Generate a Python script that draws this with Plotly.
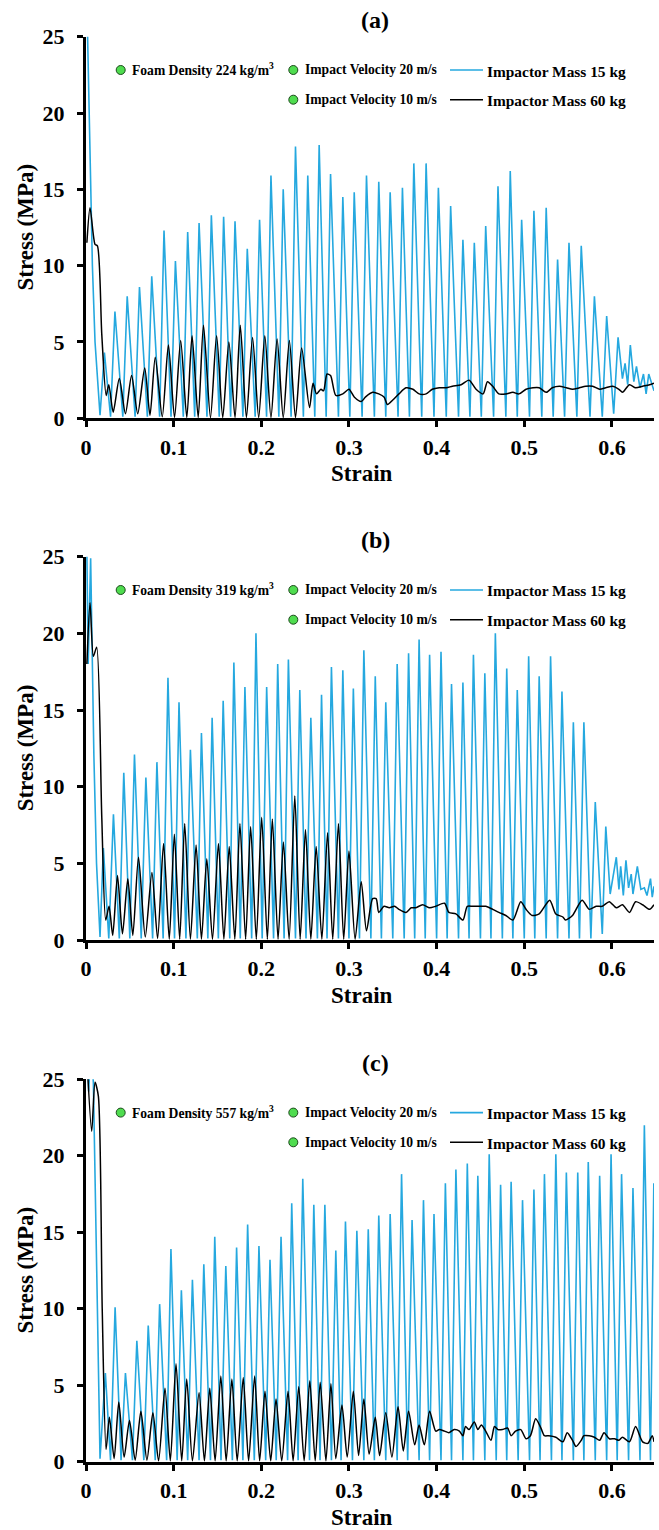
import plotly.graph_objects as go

# ---------------- data ----------------
PANEL_TITLES = ["(a)", "(b)", "(c)"]
DENSITY_LABELS = ["Foam Density 224 kg/m<sup>3</sup>",
                  "Foam Density 319 kg/m<sup>3</sup>",
                  "Foam Density 557 kg/m<sup>3</sup>"]
VELOCITY_LABELS = ["Impact Velocity 20 m/s", "Impact Velocity 10 m/s"]
MASS_LABELS = ["Impactor Mass 15 kg", "Impactor Mass 60 kg"]
X_TICKS = [0, 0.1, 0.2, 0.3, 0.4, 0.5, 0.6]
X_TICK_TEXT = ["0", "0.1", "0.2", "0.3", "0.4", "0.5", "0.6"]
Y_TICKS = [0, 5, 10, 15, 20, 25]

# (strain, stress MPa) vertices
A_BLUE = [(0, 30), (0.0038, 20), (0.0073, 10), (0.0103, 5), (0.016, 0.2),
          (0.021, 4.3), (0.028, 0.1), (0.033, 7.0), (0.042, 0.1), (0.047, 8.0), (0.056, 0.1),
          (0.061, 8.6), (0.070, 0.1), (0.075, 9.3), (0.084, 0.1), (0.089, 12.3), (0.097, 0.1),
          (0.102, 10.3), (0.111, 0.1), (0.116, 12.2), (0.124, 0.1), (0.129, 12.8), (0.138, 0.1),
          (0.143, 13.3), (0.152, 0.1), (0.157, 13.2), (0.165, 0.1), (0.170, 12.9), (0.179, 0.1),
          (0.184, 11.1), (0.193, 0.1), (0.198, 13.0), (0.206, 0.1), (0.211, 15.9), (0.220, 0.1),
          (0.225, 15.0), (0.234, 0.1), (0.239, 17.8), (0.248, 0.1), (0.253, 15.9), (0.261, 0.1),
          (0.266, 17.9), (0.274, 0.1), (0.279, 16.0), (0.288, 0.1), (0.293, 14.5), (0.301, 0.1),
          (0.306, 14.8), (0.315, 0.1), (0.320, 15.9), (0.329, 0.1), (0.334, 15.5), (0.342, 0.1),
          (0.347, 14.8), (0.356, 0.1), (0.361, 15.1), (0.369, 0.1), (0.374, 16.7), (0.383, 0.1),
          (0.388, 16.7), (0.397, 0.1), (0.402, 15.1), (0.411, 0.1), (0.416, 13.9), (0.425, 0.1),
          (0.430, 11.7), (0.438, 0.1), (0.443, 11.5), (0.451, 0.1), (0.456, 12.6), (0.465, 0.1),
          (0.470, 15.2), (0.479, 0.1), (0.484, 16.2), (0.492, 0.1), (0.497, 13.0), (0.506, 0.1),
          (0.511, 13.6), (0.520, 0.1), (0.525, 13.8), (0.533, 0.1), (0.538, 10.4), (0.546, 0.1),
          (0.551, 11.5), (0.560, 0.1), (0.565, 11.3), (0.575, 0.1), (0.580, 8.0), (0.589, 0.1),
          (0.594, 6.7), (0.602, 0.3), (0.607, 5.3), (0.612, 2.6), (0.615, 3.6), (0.618, 2.2),
          (0.621, 4.8), (0.625, 2.4), (0.628, 3.4), (0.632, 2.0), (0.636, 2.9), (0.639, 1.6),
          (0.642, 2.9), (0.645, 2.4), (0.648, 1.8)]

A_BLACK = [(0.001, 11.5), (0.0046, 13.8), (0.0103, 11.4), (0.013, 11.3), (0.018, 5.5), (0.023, 1.5),
           (0.026, 2.2), (0.031, 0.4), (0.038, 2.6), (0.045, 0.3), (0.052, 2.8), (0.059, 0.3),
           (0.067, 3.3), (0.073, 0.2), (0.079, 4.0), (0.087, 0.1), (0.094, 4.8), (0.101, 0.05),
           (0.108, 5.1), (0.115, 0.05), (0.121, 5.4), (0.128, 0.05), (0.134, 6.1), (0.142, 0.05),
           (0.149, 5.4), (0.156, 0.05), (0.163, 5.0), (0.170, 0.05), (0.176, 6.1), (0.183, 0.05),
           (0.190, 5.3), (0.197, 0.05), (0.204, 5.4), (0.211, 0.05), (0.218, 5.2), (0.225, 0.05),
           (0.232, 5.1), (0.239, 0.05), (0.246, 4.6), (0.255, 0.7), (0.259, 2.3), (0.263, 1.6),
           (0.268, 1.9), (0.271, 1.8), (0.275, 2.9), (0.279, 2.8), (0.285, 1.5), (0.293, 1.6),
           (0.300, 1.9), (0.306, 1.4), (0.314, 1.1), (0.319, 1.4), (0.327, 1.7), (0.334, 1.6),
           (0.340, 1.4), (0.344, 0.9), (0.350, 1.2), (0.357, 1.6), (0.365, 2.0), (0.373, 1.9),
           (0.380, 1.6), (0.388, 1.6), (0.395, 1.9), (0.403, 2.0), (0.411, 2.0), (0.418, 2.1),
           (0.428, 2.2), (0.437, 2.5), (0.445, 1.9), (0.453, 1.6), (0.458, 2.4), (0.464, 2.1),
           (0.471, 1.6), (0.479, 1.6), (0.487, 1.7), (0.494, 1.6), (0.502, 1.9), (0.510, 2.0),
           (0.517, 2.0), (0.525, 1.7), (0.532, 2.0), (0.540, 2.1), (0.548, 2.0), (0.555, 1.9),
           (0.563, 2.0), (0.570, 2.1), (0.578, 2.1), (0.586, 1.9), (0.593, 2.0), (0.601, 2.1),
           (0.608, 1.9), (0.612, 1.7), (0.620, 2.2), (0.627, 2.0), (0.635, 2.1), (0.643, 2.2),
           (0.648, 2.3)]

B_BLUE = [(0, 30), (0.0025, 18), (0.0053, 24.9), (0.009, 12), (0.012, 5), (0.016, 0.2),
          (0.0198, 6.0), (0.026, 0.1), (0.0313, 8.2), (0.038, 0.1), (0.0431, 10.9), (0.050, 0.1),
          (0.0553, 12.1), (0.063, 0.1), (0.0683, 10.6), (0.076, 0.1), (0.0809, 11.6), (0.088, 0.1),
          (0.0935, 17.1), (0.101, 0.1), (0.1061, 15.5), (0.114, 0.1), (0.1191, 12.4), (0.127, 0.1),
          (0.1317, 13.5), (0.139, 0.1), (0.1439, 14.5), (0.151, 0.1), (0.1565, 15.6), (0.164, 0.1),
          (0.1687, 18.1), (0.176, 0.1), (0.1813, 16.5), (0.189, 0.1), (0.1939, 20.0), (0.201, 0.1),
          (0.2061, 16.5), (0.214, 0.1), (0.2187, 18.0), (0.226, 0.1), (0.2309, 18.3), (0.239, 0.1),
          (0.2439, 16.3), (0.251, 0.1), (0.2565, 14.5), (0.264, 0.1), (0.2687, 16.0), (0.275, 0.1),
          (0.280, 17.8), (0.288, 0.1), (0.293, 17.6), (0.300, 0.1), (0.305, 16.4), (0.312, 0.1),
          (0.317, 18.9), (0.325, 0.1), (0.330, 17.2), (0.337, 0.1), (0.342, 15.5), (0.350, 0.1),
          (0.355, 18.0), (0.363, 0.1), (0.368, 18.7), (0.375, 0.1), (0.380, 19.6), (0.387, 0.1),
          (0.392, 18.6), (0.400, 0.1), (0.405, 18.8), (0.412, 0.1), (0.417, 16.7), (0.425, 0.1),
          (0.430, 16.8), (0.437, 0.1), (0.442, 18.6), (0.450, 0.1), (0.455, 17.4), (0.462, 0.1),
          (0.467, 20.0), (0.475, 0.1), (0.480, 17.7), (0.487, 0.1), (0.492, 16.3), (0.500, 0.1),
          (0.505, 18.5), (0.512, 0.1), (0.517, 17.2), (0.525, 0.1), (0.530, 18.5), (0.538, 0.1),
          (0.543, 16.2), (0.551, 0.1), (0.556, 14.2), (0.563, 0.1), (0.568, 14.2), (0.576, 0.1),
          (0.581, 9.0), (0.589, 0.4), (0.593, 7.4), (0.598, 3.0), (0.605, 5.4), (0.608, 3.3),
          (0.610, 4.8), (0.613, 2.9), (0.616, 5.2), (0.619, 3.4), (0.622, 4.3), (0.624, 3.0),
          (0.629, 4.8), (0.633, 3.3), (0.637, 3.4), (0.640, 2.9), (0.644, 4.0), (0.646, 2.8),
          (0.648, 3.5)]

B_BLACK = [(0.001, 18), (0.0046, 22.0), (0.0084, 18.5), (0.0122, 19.1), (0.018, 8.0), (0.0225, 1.3),
           (0.0263, 2.2), (0.0305, 0.3), (0.0359, 4.2), (0.0416, 0.4), (0.0477, 4.0), (0.0534, 0.3),
           (0.0599, 5.4), (0.0676, 0.2), (0.0752, 4.4), (0.0817, 0.1), (0.0885, 6.3), (0.0950, 0.05),
           (0.1008, 6.9), (0.1069, 0.05), (0.1126, 7.6), (0.1191, 0.05), (0.1256, 6.2), (0.1317, 0.05),
           (0.1378, 5.3), (0.1443, 0.05), (0.1511, 6.3), (0.1573, 0.05), (0.1634, 6.1), (0.1698, 0.05),
           (0.1756, 7.6), (0.1821, 0.05), (0.1878, 7.4), (0.1943, 0.05), (0.2004, 8.0), (0.2069, 0.05),
           (0.2126, 7.9), (0.2191, 0.05), (0.2252, 6.4), (0.2317, 0.05), (0.2382, 9.4), (0.2443, 0.05),
           (0.2504, 7.2), (0.2565, 0.05), (0.2626, 6.1), (0.2691, 0.05), (0.2756, 7.0), (0.2815, 0.05),
           (0.288, 7.6), (0.294, 0.05), (0.300, 5.8), (0.307, 0.05), (0.314, 3.8), (0.320, 0.6),
           (0.327, 2.7), (0.331, 2.7), (0.334, 1.8), (0.340, 2.2), (0.346, 2.1), (0.352, 2.2),
           (0.357, 2.0), (0.365, 1.8), (0.371, 2.1), (0.376, 2.1), (0.384, 2.3), (0.392, 2.1),
           (0.399, 2.2), (0.409, 2.4), (0.414, 1.8), (0.422, 1.7), (0.430, 1.3), (0.435, 2.2),
           (0.441, 2.2), (0.448, 2.2), (0.456, 2.2), (0.464, 2.0), (0.471, 1.8), (0.479, 1.6),
           (0.487, 1.3), (0.496, 2.5), (0.502, 2.0), (0.509, 1.6), (0.517, 1.7), (0.529, 2.6),
           (0.536, 1.7), (0.544, 1.5), (0.547, 1.3), (0.555, 1.6), (0.566, 2.6), (0.574, 2.0),
           (0.582, 2.2), (0.589, 2.2), (0.597, 2.5), (0.605, 2.1), (0.612, 2.3), (0.620, 1.8),
           (0.627, 2.5), (0.635, 2.3), (0.643, 2.0), (0.648, 2.3)]

C_BLUE = [(0, 30), (0.003, 24.2), (0.0055, 27), (0.0084, 24.8), (0.013, 10), (0.016, 0.2),
          (0.0221, 5.8), (0.028, 0.1), (0.0332, 10.1), (0.040, 0.1), (0.0450, 5.8), (0.053, 0.1),
          (0.0580, 7.9), (0.066, 0.1), (0.0710, 8.9), (0.079, 0.1), (0.0840, 10.3), (0.092, 0.1),
          (0.0969, 13.9), (0.104, 0.1), (0.1088, 11.2), (0.116, 0.1), (0.1214, 11.9), (0.129, 0.1),
          (0.1344, 12.9), (0.142, 0.1), (0.1469, 14.7), (0.154, 0.1), (0.1595, 12.8), (0.167, 0.1),
          (0.1718, 14.0), (0.179, 0.1), (0.1844, 15.5), (0.192, 0.1), (0.1973, 14.1), (0.205, 0.1),
          (0.2099, 13.2), (0.217, 0.1), (0.2225, 14.7), (0.230, 0.1), (0.2347, 16.9), (0.242, 0.1),
          (0.2473, 18.5), (0.255, 0.1), (0.2599, 16.8), (0.267, 0.1), (0.2725, 16.8), (0.280, 0.1),
          (0.285, 13.8), (0.291, 0.1), (0.296, 15.7), (0.304, 0.1), (0.309, 15.1), (0.317, 0.1),
          (0.322, 15.2), (0.329, 0.1), (0.334, 16.1), (0.342, 0.1), (0.347, 16.2), (0.355, 0.1),
          (0.360, 18.8), (0.367, 0.1), (0.372, 15.8), (0.380, 0.1), (0.385, 17.1), (0.392, 0.1),
          (0.397, 16.2), (0.405, 0.1), (0.410, 18.2), (0.417, 0.1), (0.422, 19.1), (0.430, 0.1),
          (0.435, 19.5), (0.442, 0.1), (0.447, 18.7), (0.455, 0.1), (0.460, 20.1), (0.468, 0.1),
          (0.473, 18.1), (0.480, 0.1), (0.485, 18.3), (0.493, 0.1), (0.498, 17.1), (0.506, 0.1),
          (0.511, 17.8), (0.518, 0.1), (0.523, 18.8), (0.531, 0.1), (0.536, 20.1), (0.543, 0.1),
          (0.548, 18.9), (0.556, 0.1), (0.561, 18.9), (0.568, 0.1), (0.573, 19.6), (0.581, 0.1),
          (0.586, 18.7), (0.594, 0.1), (0.599, 20.1), (0.606, 0.1), (0.611, 18.8), (0.619, 0.1),
          (0.624, 17.9), (0.632, 0.1), (0.637, 22.0), (0.644, 0.1), (0.6478, 18.2)]

C_BLACK = [(0.0005, 27), (0.0065, 21.6), (0.0103, 24.8), (0.0141, 23.9), (0.0185, 10), (0.0229, 0.8),
           (0.0267, 2.9), (0.0321, 0.2), (0.0374, 3.9), (0.0435, 0.3), (0.0496, 2.7), (0.0561, 0.1),
           (0.0626, 3.3), (0.0695, 0.1), (0.0763, 3.2), (0.0828, 0.05), (0.0901, 4.8), (0.0962, 0.05),
           (0.1027, 6.4), (0.1092, 0.05), (0.1149, 5.4), (0.1214, 0.05), (0.1290, 4.5), (0.1351, 0.05),
           (0.1412, 4.8), (0.1473, 0.05), (0.1538, 5.6), (0.1599, 0.05), (0.1664, 5.4), (0.1725, 0.05),
           (0.1794, 5.5), (0.1855, 0.05), (0.1924, 5.6), (0.1981, 0.05), (0.2042, 4.6), (0.2107, 0.05),
           (0.2168, 4.1), (0.2233, 0.05), (0.2305, 4.6), (0.2363, 0.05), (0.2427, 4.9), (0.2489, 0.05),
           (0.2553, 5.3), (0.2615, 0.05), (0.2672, 5.2), (0.2737, 0.05), (0.2794, 5.1), (0.285, 0.2),
           (0.292, 3.7), (0.298, 0.3), (0.305, 4.6), (0.311, 0.4), (0.317, 4.1), (0.323, 0.5),
           (0.330, 2.9), (0.335, 0.4), (0.342, 3.2), (0.349, 0.3), (0.356, 3.6), (0.362, 0.7),
           (0.368, 3.3), (0.375, 1.1), (0.380, 2.4), (0.386, 1.1), (0.392, 3.3), (0.399, 2.0),
           (0.403, 2.1), (0.409, 2.0), (0.414, 1.9), (0.420, 2.1), (0.426, 2.0), (0.430, 1.7),
           (0.433, 2.3), (0.437, 2.1), (0.443, 2.6), (0.447, 2.1), (0.451, 2.4), (0.456, 2.0),
           (0.462, 1.4), (0.466, 2.3), (0.470, 2.1), (0.475, 2.1), (0.481, 2.2), (0.485, 1.7),
           (0.490, 2.0), (0.496, 2.1), (0.502, 1.5), (0.507, 1.7), (0.513, 2.8), (0.519, 2.2),
           (0.523, 1.7), (0.528, 1.7), (0.536, 1.6), (0.544, 1.3), (0.549, 1.9), (0.555, 1.4),
           (0.559, 1.0), (0.565, 1.4), (0.568, 1.7), (0.574, 1.7), (0.580, 1.6), (0.586, 1.4),
           (0.591, 1.9), (0.597, 1.5), (0.603, 1.5), (0.608, 1.4), (0.612, 1.6), (0.620, 1.3),
           (0.627, 2.3), (0.635, 1.3), (0.641, 1.2), (0.646, 1.7), (0.648, 1.3)]

BLUE_SERIES = [A_BLUE, B_BLUE, C_BLUE]
BLACK_SERIES = [A_BLACK, B_BLACK, C_BLACK]

# ---------------- layout / styling ----------------
W, H = 659, 1530
FONT = "Liberation Serif"
BLUE = "#25a8df"
BLACK = "#000000"
GREEN = "#4fdc4f"
X_LEFT, X_RIGHT = 86, 654            # pixel edges of plot area
TOPS = [36.7, 556.7, 1079.3]          # pixel y of stress 25
BOTTOMS = [418.3, 940.0, 1461.7]      # pixel y of stress 0
XMAX = 0.648
YMAX = 25


def fx(p):
    return p / W


def fy(p):
    return 1 - p / H


fig = go.Figure()
annotations = []
shapes = []

for i in range(3):
    sfx = "" if i == 0 else str(i + 1)
    xa, ya = "x" + sfx, "y" + sfx
    top, bot = TOPS[i], BOTTOMS[i]
    ppu_y = (bot - top) / YMAX
    ppu_x = (X_RIGHT - X_LEFT) / XMAX

    def sx(px):
        return (px - X_LEFT) / ppu_x

    def sy(py):
        return (bot - py) / ppu_y

    blue = BLUE_SERIES[i]
    black = BLACK_SERIES[i]
    fig.add_trace(go.Scatter(x=[p[0] for p in blue], y=[p[1] for p in blue], mode="lines",
                             line=dict(color=BLUE, width=1.6), xaxis=xa, yaxis=ya,
                             showlegend=False, hoverinfo="skip"))
    fig.add_trace(go.Scatter(x=[p[0] for p in black], y=[p[1] for p in black], mode="lines",
                             line=dict(color=BLACK, width=1.5, shape="spline", smoothing=0.7),
                             xaxis=xa, yaxis=ya, showlegend=False, hoverinfo="skip"))

    row1 = top + 33.3
    row2 = top + 63.0
    # green bullet markers
    fig.add_trace(go.Scatter(x=[sx(120.7), sx(293.3), sx(293.3)], y=[sy(row1), sy(row1), sy(row2)],
                             mode="markers", xaxis=xa, yaxis=ya, showlegend=False, hoverinfo="skip",
                             cliponaxis=False,
                             marker=dict(size=9, color=GREEN, line=dict(color="#1d4a1d", width=1))))
    # legend texts
    annotations.append(dict(x=fx(130), y=fy(row1), xref="paper", yref="paper", xanchor="left",
                            yanchor="middle", showarrow=False, text=DENSITY_LABELS[i],
                            font=dict(family=FONT, size=13.6, color="black", weight="bold")))
    for j, r in enumerate([row1, row2]):
        annotations.append(dict(x=fx(303), y=fy(r), xref="paper", yref="paper", xanchor="left",
                                yanchor="middle", showarrow=False, text=VELOCITY_LABELS[j],
                                font=dict(family=FONT, size=13.6, color="black", weight="bold")))
        annotations.append(dict(x=fx(485), y=fy(r + 1), xref="paper", yref="paper", xanchor="left",
                                yanchor="middle", showarrow=False, text=MASS_LABELS[j],
                                font=dict(family=FONT, size=15.4, color="black", weight="bold")))
        shapes.append(dict(type="line", xref="paper", yref="paper", x0=fx(450), x1=fx(483),
                           y0=fy(r), y1=fy(r), line=dict(color=[BLUE, BLACK][j], width=1.6)))

    # panel title
    annotations.append(dict(x=fx(375), y=fy(top - 16.5), xref="paper", yref="paper",
                            xanchor="center", yanchor="middle", showarrow=False, text=PANEL_TITLES[i],
                            font=dict(family=FONT, size=24, color="black", weight="bold")))
    # axis titles
    annotations.append(dict(x=fx(362), y=fy(bot + 55.5), xref="paper", yref="paper",
                            xanchor="center", yanchor="middle", showarrow=False, text="Strain",
                            font=dict(family=FONT, size=23, color="black", weight="bold")))
    annotations.append(dict(x=fx(25), y=fy((top + bot) / 2), xref="paper", yref="paper",
                            xanchor="center", yanchor="middle", showarrow=False, text="Stress (MPa)",
                            textangle=-90,
                            font=dict(family=FONT, size=23, color="black", weight="bold")))

    tickfont = dict(family=FONT, size=22, color="black", weight="bold")
    fig.layout["xaxis" + sfx] = dict(domain=[fx(X_LEFT), fx(X_RIGHT)], anchor=ya, range=[0, XMAX],
                                     tickvals=X_TICKS, ticktext=X_TICK_TEXT, showline=True,
                                     linewidth=3, linecolor="black", ticks="outside", ticklen=6,
                                     tickwidth=3, tickcolor="black", showgrid=False, zeroline=False,
                                     tickfont=tickfont, ticklabelstandoff=1, fixedrange=True,
                                     automargin=False)
    fig.layout["yaxis" + sfx] = dict(domain=[fy(bot), fy(top)], anchor=xa, range=[0, YMAX],
                                     tickvals=Y_TICKS, showline=True, linewidth=3, linecolor="black",
                                     ticks="outside", ticklen=6, tickwidth=3, tickcolor="black",
                                     showgrid=False, zeroline=False, tickfont=tickfont,
                                     ticklabelstandoff=8, fixedrange=True, automargin=False)

fig.update_layout(template="none", width=W, height=H, margin=dict(l=0, r=0, t=0, b=0, pad=0),
                  paper_bgcolor="white", plot_bgcolor="white",
                  annotations=annotations, shapes=shapes, showlegend=False)

fig.write_html("out.html", config={"displayModeBar": False},
               post_script="document.body.style.margin='0';document.body.style.padding='0';"
                           "document.body.style.overflow='hidden';")
